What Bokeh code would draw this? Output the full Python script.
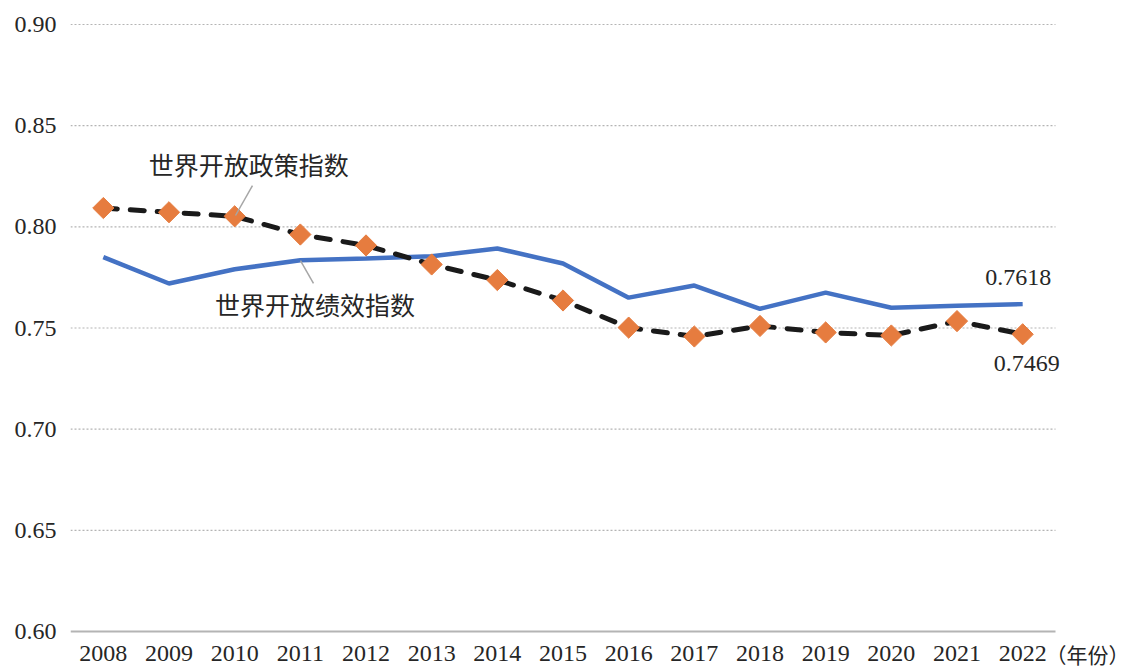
import math
from bokeh.plotting import figure
from bokeh.models import Range1d, Label, ColumnDataSource, FixedTicker, PrintfTickFormatter
from bokeh.core.properties import value
from bokeh.embed import file_html
from bokeh.resources import INLINE

years = [str(y) for y in range(2008, 2023)]
performance = [0.785, 0.772, 0.779, 0.7835, 0.7843, 0.7855, 0.7893, 0.7819, 0.765, 0.771,
               0.7595, 0.7675, 0.760, 0.761, 0.7618]
policy = [0.8093, 0.8072, 0.8052, 0.7962, 0.7908, 0.7814, 0.7737, 0.7636, 0.7502, 0.7458,
          0.7510, 0.7478, 0.7463, 0.7534, 0.7469]
yticks = [0.60, 0.65, 0.70, 0.75, 0.80, 0.85, 0.90]
x_unit_label = "（年份）"

SERIF = "Liberation Serif"
CJK = "Noto Sans CJK SC"
TXT = "#262626"
GRID = "#b4b4b4"

n = len(years)
xpos = list(range(n))
unit = 985 / n                 # px per category
x_end = -0.5 + 1064 / unit
yscale = 607 / 0.30            # px per unit value
y_top = 0.90 + 2 / yscale
y_bot = 0.60 - 37 / yscale

p = figure(width=1134, height=668, x_range=Range1d(-0.5, x_end), y_range=Range1d(y_bot, y_top),
           output_backend="svg", toolbar_location=None,
           min_border_left=70, min_border_right=0, min_border_top=22, min_border_bottom=0)
p.outline_line_color = None
p.background_fill_color = "white"
p.border_fill_color = "white"
p.grid.grid_line_color = None
p.xaxis.visible = False

# dotted grid lines limited to the category span, solid base line
gsrc = ColumnDataSource(dict(x0=[-0.5] * (len(yticks) - 1), x1=[n - 0.5] * (len(yticks) - 1),
                             y=yticks[1:]))
p.segment(x0="x0", y0="y", x1="x1", y1="y", source=gsrc, line_color=GRID, line_width=1.2, line_dash="2 2")
p.segment(x0=[-0.5], y0=[yticks[0]], x1=[n - 0.5], y1=[yticks[0]], line_color=GRID, line_width=2)

# y axis
p.yaxis.ticker = FixedTicker(ticks=yticks)
p.yaxis.formatter = PrintfTickFormatter(format="%.2f")
p.yaxis.axis_line_color = None
p.yaxis.major_tick_line_color = None
p.yaxis.minor_tick_line_color = None
p.yaxis.major_label_text_font = SERIF
p.yaxis.major_label_text_font_size = "24px"
p.yaxis.major_label_text_color = TXT
p.yaxis.major_label_standoff = 8

# x category labels below the base line
label_y = yticks[0] - 22 / yscale
p.text(x=xpos, y=[label_y] * n, text=years, text_font=value(SERIF), text_font_size="24px",
       text_color=TXT, text_align="center", text_baseline="middle")
p.text(x=[n - 0.5 - 0.153], y=[label_y], text=[x_unit_label], text_font=value(CJK), text_font_size="21px",
       text_color=TXT, text_align="left", text_baseline="middle")

# series
p.line(xpos, performance, line_color="#4472C4", line_width=4.5)
p.line(xpos, policy, line_color="#1a1a1a", line_width=5, line_dash="14 13", line_cap="round")
p.scatter(xpos, policy, marker="square", size=15, angle=math.pi / 4,
          fill_color="#E67C3F", line_color="#E67C3F")

# leader lines
seg = ColumnDataSource(dict(x0=[2.271, 3.002], y0=[0.8204, 0.7833], x1=[2.013, 3.200], y1=[0.8056, 0.7720]))
p.segment(x0="x0", y0="y0", x1="x1", y1="y1", source=seg, line_color="#a6a6a6", line_width=1.5)

p.add_layout(Label(x=0.69, y=0.8313, text="世界开放政策指数", text_font=CJK, text_font_size="25px",
                   text_color=TXT, text_baseline="middle"))
p.add_layout(Label(x=1.70, y=0.7621, text="世界开放绩效指数", text_font=CJK, text_font_size="25px",
                   text_color=TXT, text_baseline="middle"))
p.add_layout(Label(x=13.43, y=0.7749, text=f"{performance[-1]:.4f}", text_font=SERIF, text_font_size="24px",
                   text_color=TXT, text_baseline="middle"))
p.add_layout(Label(x=13.56, y=0.7324, text=f"{policy[-1]:.4f}", text_font=SERIF, text_font_size="24px",
                   text_color=TXT, text_baseline="middle"))

open("out.html", "w").write(file_html(p, INLINE))
